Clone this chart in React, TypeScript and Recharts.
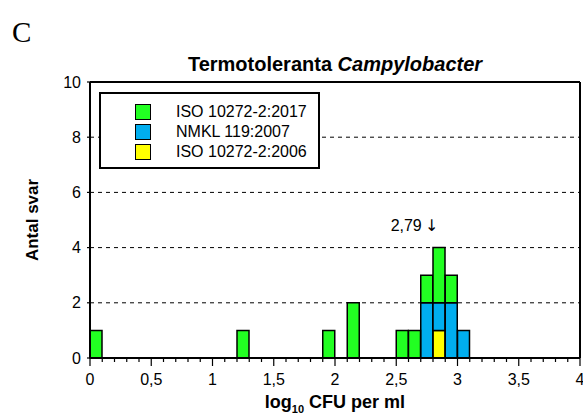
import {
  Bar,
  BarChart,
  CartesianGrid,
  Legend,
  ReferenceDot,
  ReferenceLine,
  XAxis,
  YAxis,
} from "recharts";

// bin centres (log10 CFU/ml), bin width 0.1
const bins = [0.05, 1.25, 1.95, 2.15, 2.55, 2.65, 2.75, 2.85, 2.95, 3.05];
const iso2017 = [1, 1, 1, 2, 1, 1, 1, 2, 1, 0];
const nmkl = [0, 0, 0, 0, 0, 0, 2, 1, 2, 1];
const iso2006 = [0, 0, 0, 0, 0, 0, 0, 1, 0, 0];

const yTicks = [0, 2, 4, 6, 8, 10];
const xTicks = Array.from({ length: 41 }, (_, i) => i / 10);
const xLabels: Record<string, string> = {
  "0": "0",
  "0.5": "0,5",
  "1": "1",
  "1.5": "1,5",
  "2": "2",
  "2.5": "2,5",
  "3": "3",
  "3.5": "3,5",
  "4": "4",
};

const median = 2.79;
const medianLabel = "2,79";

// drawn bottom to top
const series = [
  { key: "iso2006", name: "ISO 10272-2:2006", color: "#FFFF00" },
  { key: "nmkl", name: "NMKL 119:2007", color: "#00AEEF" },
  { key: "iso2017", name: "ISO 10272-2:2017", color: "#22FF22" },
];

const data = bins.map((x, i) => ({
  x,
  iso2017: iso2017[i],
  nmkl: nmkl[i],
  iso2006: iso2006[i],
}));

const font = "'Liberation Sans', Arial, sans-serif";

const XTick = (props: any) => {
  const { x, y, payload } = props;
  const v = Math.round(payload.value * 10) / 10;
  const label = xLabels[String(v)];
  return (
    <g>
      <line x1={x} x2={x} y1={y} y2={y + (label ? 8 : 4)} stroke="#000" strokeWidth={1.2} />
      {label && (
        <text x={x} y={y + 27} textAnchor="middle" fontSize={16} fill="#000" fontFamily={font}>
          {label}
        </text>
      )}
    </g>
  );
};

const LegendBox = () => (
  <div
    style={{
      width: 217,
      height: 73,
      border: "2px solid #000",
      background: "#fff",
      fontFamily: font,
      fontSize: 16,
      position: "relative",
    }}
  >
    {[...series].reverse().map((s, i) => (
      <div key={s.key} style={{ position: "absolute", left: 34, top: 10 + i * 20, display: "flex", alignItems: "center" }}>
        <div style={{ width: 14, height: 14, background: s.color, border: "1px solid #000" }} />
        <span style={{ marginLeft: 25, lineHeight: "16px" }}>{s.name}</span>
      </div>
    ))}
  </div>
);

export default function App() {
  return (
    <div style={{ position: "absolute", left: 0, top: 0, width: 583, height: 416, background: "#fff" }}>
      <div style={{ position: "absolute", left: 12, top: 16, fontFamily: "'Liberation Serif', serif", fontSize: 29, lineHeight: "32px" }}>
        C
      </div>
      <div
        style={{
          position: "absolute",
          left: 90,
          width: 490,
          top: 53,
          textAlign: "center",
          fontFamily: font,
          fontWeight: "bold",
          fontSize: 20,
          lineHeight: "22px",
        }}
      >
        Termotoleranta <i>Campylobacter</i>
      </div>
      <BarChart
        width={583}
        height={416}
        data={data}
        margin={{ top: 82, right: 3, bottom: 28, left: 40 }}
        barCategoryGap={0}
        barGap={0}
        style={{ position: "absolute", left: 0, top: 0 }}
      >
        <CartesianGrid
          horizontal
          vertical={false}
          horizontalValues={[2, 4, 6, 8]}
          stroke="#000"
          strokeDasharray="4 4"
        />
        <XAxis
          dataKey="x"
          type="number"
          domain={[0, 4]}
          ticks={xTicks}
          interval={0}
          height={30}
          tickSize={0}
          tickMargin={0}
          tick={<XTick />}
          axisLine={{ stroke: "#000", strokeWidth: 2 }}
          label={(p: any) => {
            const vb = p.viewBox;
            return (
              <text x={vb.x + vb.width / 2} y={vb.y + 50} textAnchor="middle" fontFamily={font} fontWeight="bold" fontSize={18} fill="#000">
                log<tspan fontSize={11} dy={5}>10</tspan>
                <tspan dy={-5}> CFU per ml</tspan>
              </text>
            );
          }}
        />
        <YAxis
          type="number"
          domain={[0, 10]}
          ticks={yTicks}
          interval={0}
          width={50}
          tickSize={3}
          tickMargin={6}
          tick={{ fill: "#000", fontSize: 16, fontFamily: font }}
          tickLine={{ stroke: "#000", strokeWidth: 1.2 }}
          axisLine={{ stroke: "#000", strokeWidth: 2 }}
          label={(p: any) => {
            const vb = p.viewBox;
            const cx = vb.x - 8;
            const cy = vb.y + vb.height / 2;
            return (
              <text x={cx} y={cy} transform={`rotate(-90 ${cx} ${cy})`} textAnchor="middle" dominantBaseline="central" fontFamily={font} fontWeight="bold" fontSize={17} fill="#000">
                Antal svar
              </text>
            );
          }}
        />
        {series.map((s) => (
          <Bar
            key={s.key}
            dataKey={s.key}
            name={s.name}
            stackId="a"
            fill={s.color}
            stroke="#000"
            strokeWidth={1.5}
            isAnimationActive={false}
          />
        ))}
        <ReferenceLine y={10} stroke="#000" strokeWidth={2} />
        <ReferenceLine x={4} stroke="#000" strokeWidth={2} />
        <ReferenceDot
          x={median}
          y={4.6}
          r={0}
          fill="none"
          stroke="none"
          label={(p: any) => {
            const vb = p.viewBox;
            const cx = vb.x + vb.width / 2;
            const cy = vb.y + vb.height / 2;
            return (
              <g>
                <text x={cx - 10} y={cy} textAnchor="end" fontFamily={font} fontSize={16} fill="#000">
                  {medianLabel}
                </text>
                <text x={cx} y={cy} textAnchor="middle" fontFamily="'DejaVu Sans', sans-serif" fontSize={16} fill="#000">
                  ↓
                </text>
              </g>
            );
          }}
        />
        <Legend
          verticalAlign="middle"
          align="center"
          content={() => <LegendBox />}
          wrapperStyle={{ left: 99, top: 92, width: 221, height: 77 }}
        />
      </BarChart>
    </div>
  );
}
